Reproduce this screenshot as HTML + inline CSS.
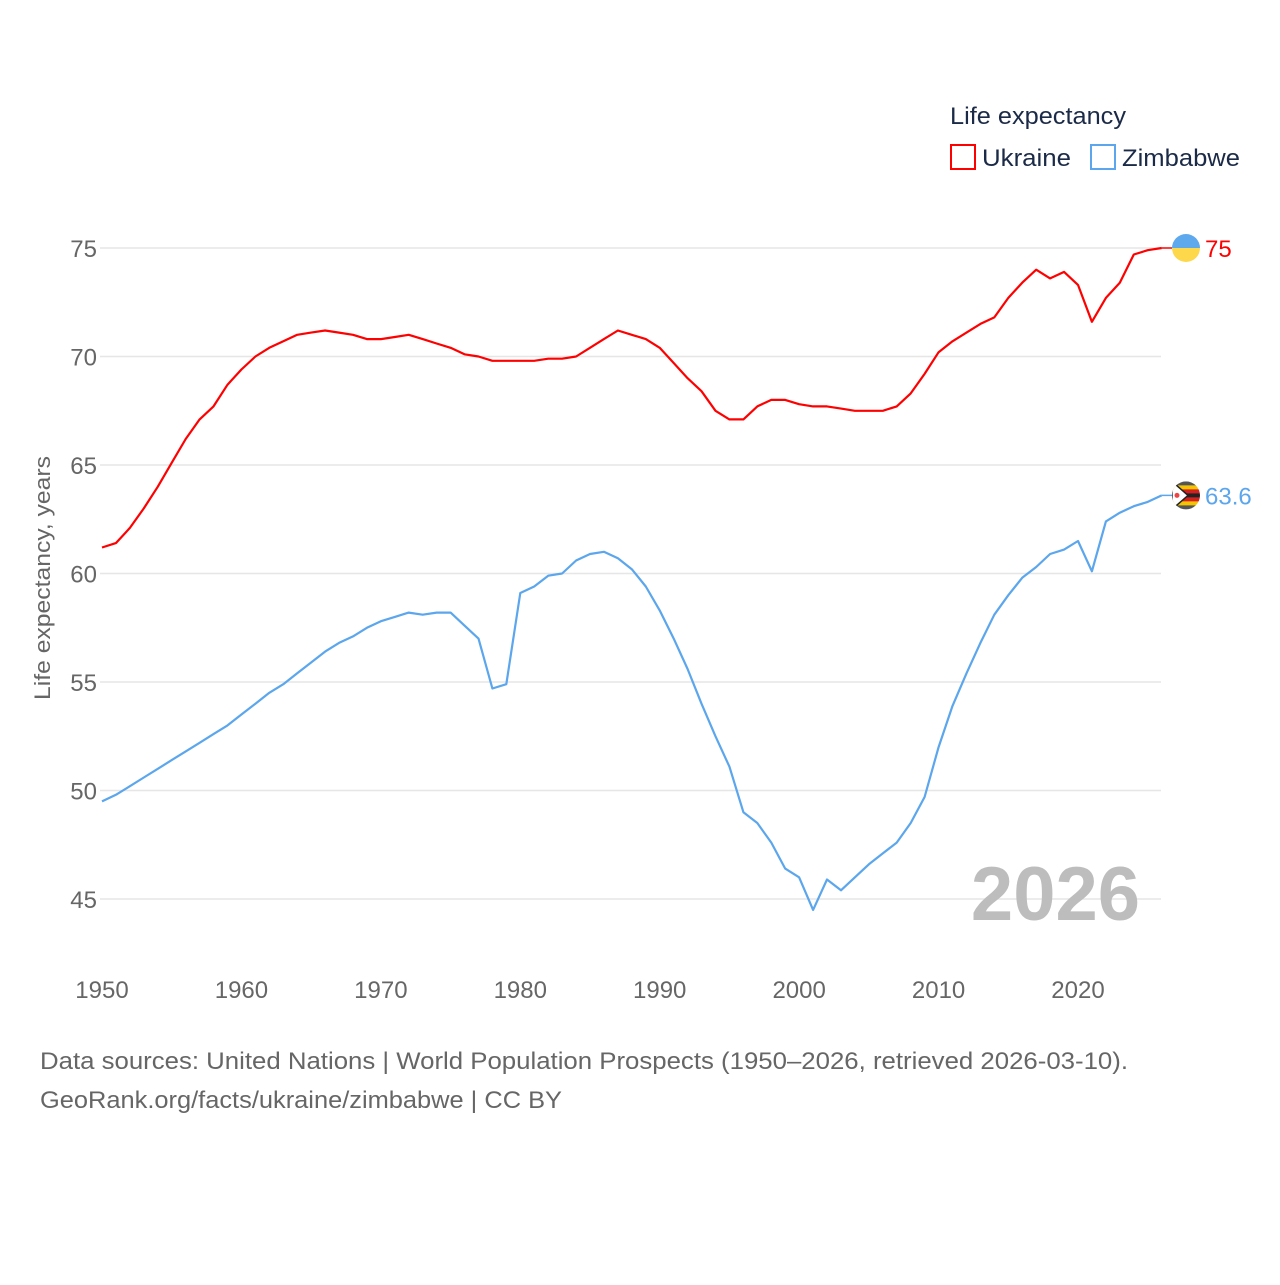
<!DOCTYPE html>
<html><head><meta charset="utf-8"><style>
body{margin:0;background:#fff;font-family:"Liberation Sans",sans-serif}
svg text{font-family:"Liberation Sans",sans-serif}
</style></head><body>
<svg width="1280" height="1280" viewBox="0 0 1280 1280">
<g id="grid"></g>
<g id="yaxis"></g>
<g id="xaxis"></g>
<text x="50" y="578" transform="rotate(-90 50 578)" text-anchor="middle" font-size="22" fill="#666" textLength="244" lengthAdjust="spacingAndGlyphs">Life expectancy, years</text>
<text x="1140" y="920" text-anchor="end" font-size="76" font-weight="bold" fill="#bdbdbd">2026</text>
<g id="lines"></g>
<g>
<text x="950" y="124" font-size="24" fill="#1b2a47" textLength="176" lengthAdjust="spacingAndGlyphs">Life expectancy</text>
<g><rect x="951" y="145" width="24" height="24" fill="none" stroke="#ff0000" stroke-width="2"/><text x="982" y="166" font-size="24" fill="#1b2a47" textLength="89" lengthAdjust="spacingAndGlyphs">Ukraine</text></g>
<g><rect x="1091" y="145" width="24" height="24" fill="none" stroke="#5ba6ec" stroke-width="2"/><text x="1122" y="166" font-size="24" fill="#1b2a47" textLength="118" lengthAdjust="spacingAndGlyphs">Zimbabwe</text></g>
</g>
<text x="40" y="1069" font-size="24" fill="#666" textLength="1088" lengthAdjust="spacingAndGlyphs">Data sources: United Nations | World Population Prospects (1950–2026, retrieved 2026-03-10).</text>
<text x="40" y="1108" font-size="24" fill="#666" textLength="522" lengthAdjust="spacingAndGlyphs">GeoRank.org/facts/ukraine/zimbabwe | CC BY</text>
</svg>
<script>
const years=[];for(let y=1950;y<=2026;y++)years.push(y);
const ukraine=[61.2,61.4,62.1,63.0,64.0,65.1,66.2,67.1,67.7,68.7,69.4,70.0,70.4,70.7,71.0,71.1,71.2,71.1,71.0,70.8,70.8,70.9,71.0,70.8,70.6,70.4,70.1,70.0,69.8,69.8,69.8,69.8,69.9,69.9,70.0,70.4,70.8,71.2,71.0,70.8,70.4,69.7,69.0,68.4,67.5,67.1,67.1,67.7,68.0,68.0,67.8,67.7,67.7,67.6,67.5,67.5,67.5,67.7,68.3,69.2,70.2,70.7,71.1,71.5,71.8,72.7,73.4,74.0,73.6,73.9,73.3,71.6,72.7,73.4,74.7,74.9,75.0];
const zimbabwe=[49.5,49.8,50.2,50.6,51.0,51.4,51.8,52.2,52.6,53.0,53.5,54.0,54.5,54.9,55.4,55.9,56.4,56.8,57.1,57.5,57.8,58.0,58.2,58.1,58.2,58.2,57.6,57.0,54.7,54.9,59.1,59.4,59.9,60.0,60.6,60.9,61.0,60.7,60.2,59.4,58.3,57.0,55.6,54.0,52.5,51.1,49.0,48.5,47.6,46.4,46.0,44.5,45.9,45.4,46.0,46.6,47.1,47.6,48.5,49.7,52.0,53.9,55.4,56.8,58.1,59.0,59.8,60.3,60.9,61.1,61.5,60.1,62.4,62.8,63.1,63.3,63.6];
const yTicks=[45,50,55,60,65,70,75];
const xTicks=[1950,1960,1970,1980,1990,2000,2010,2020];
const ukraineLabel="75", zimbabweLabel="63.6";
const X=v=>102+(v-1950)*(976/70);
const Y=v=>248+(75-v)*(651/30);
const NS="http://www.w3.org/2000/svg";
function mk(tag,attrs,parent){const e=document.createElementNS(NS,tag);for(const k in attrs)e.setAttribute(k,attrs[k]);parent.appendChild(e);return e;}
const grid=document.getElementById('grid'),ya=document.getElementById('yaxis'),xa=document.getElementById('xaxis'),lines=document.getElementById('lines');
yTicks.forEach(t=>{
 const l=mk('line',{x1:100,x2:1161,y1:Y(t),y2:Y(t),stroke:'#e6e6e6','stroke-width':1.5},grid);
 
 
 const tx=mk('text',{x:97,y:Y(t)+9,'text-anchor':'end','font-size':24,fill:'#666'},ya);
 tx.textContent=t;
 
 
});
xTicks.forEach(t=>{
 const tx=mk('text',{x:X(t),y:998,'text-anchor':'middle','font-size':24,fill:'#666'},xa);
 tx.textContent=t;
 
 
});
function series(vals,color,name,label){
 const d=vals.map((v,i)=>(i?'L':'M')+X(years[i]).toFixed(1)+','+Y(v).toFixed(1)).join('');
 const p=mk('path',{d:d,fill:'none',stroke:color,'stroke-width':2.2,'stroke-linejoin':'round'},lines);
 
 
 const last=vals[vals.length-1],ly=Y(last);
 mk('line',{x1:X(2026),x2:1172,y1:ly,y2:ly,stroke:color,'stroke-width':1.5},lines);
 const t=mk('text',{x:1205,y:ly+9,'font-size':24,fill:color},lines);
 t.textContent=label;
 
 
 return ly;
}
const uy=series(ukraine,'#ff0000','ukraine',ukraineLabel);
const zy=series(zimbabwe,'#5ba6ec','zimbabwe',zimbabweLabel);
const fu=mk('g',{},lines);


mk('path',{d:`M1172,${uy} a14,14 0 0 1 28,0 z`,fill:'#5ea8ee'},fu);
mk('path',{d:`M1172,${uy} a14,14 0 0 0 28,0 z`,fill:'#fdd84a'},fu);
const fz=mk('g',{},lines);


const cp=mk('clipPath',{id:'zc'},fz);mk('circle',{cx:1186,cy:zy,r:14},cp);
const zg=mk('g',{'clip-path':'url(#zc)'},fz);
const cols=['#555','#f5c400','#d42020','#222','#d42020','#f5c400','#555'];
cols.forEach((c,i)=>mk('rect',{x:1172,y:zy-14+i*4,width:28,height:4.1,fill:c},zg));
mk('path',{d:`M1172,${zy-14} L1188,${zy} L1172,${zy+14} z`,fill:'#fff',stroke:'#222','stroke-width':1.5},zg);
mk('circle',{cx:1177,cy:zy,r:2.5,fill:'#e44'},zg);
</script>
</body></html>
